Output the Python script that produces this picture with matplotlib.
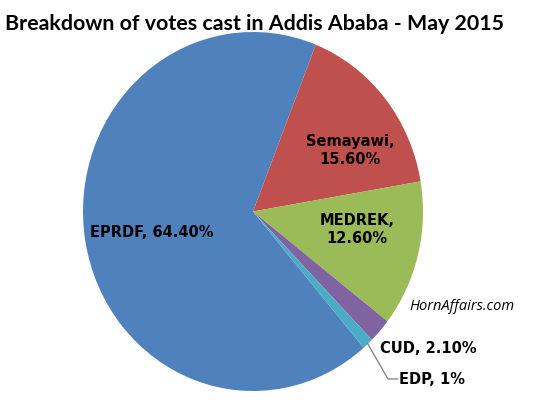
import numpy as np
import matplotlib.pyplot as plt

# Vote shares as printed on the chart (they do not sum to 100)
parties = ['EPRDF', 'Semayawi', 'MEDREK', 'CUD', 'EDP']
shares = [64.4, 15.6, 12.6, 2.1, 1.0]
labels = ['EPRDF, 64.40%', 'Semayawi,\n15.60%', 'MEDREK,\n12.60%', 'CUD, 2.10%', 'EDP, 1%']
colors = ['#4F81BD', '#C0504D', '#9BBB59', '#8064A2', '#4BACC6']

fig = plt.figure(figsize=(5.5, 4.02), dpi=100)
fig.patch.set_facecolor('white')

# pie is a bit taller than wide in the original, so use a non-square axes
ax = fig.add_axes([83 / 550, 10 / 402, 340 / 550, 359 / 402])
wedges, _ = ax.pie(shares, colors=colors, startangle=-49.4, counterclock=False,
                   wedgeprops=dict(linewidth=0))
ax.set_aspect('auto')
ax.set_xlim(-1, 1)
ax.set_ylim(-1, 1)

lab_font = dict(family='DejaVu Sans', weight='bold', fontsize=10.5, color='black')
ax.text(-0.594, -0.109, labels[0], ha='center', va='center', **lab_font)
ax.text(0.571, 0.348, labels[1], ha='center', va='center', linespacing=1.25, **lab_font)
ax.text(0.612, -0.097, labels[2], ha='center', va='center', linespacing=1.25, **lab_font)
ax.text(1.029, -0.755, labels[3], ha='center', va='center', clip_on=False, **lab_font)
ax.text(0.86, -0.933, labels[4], ha='left', va='center', clip_on=False, **lab_font)

# leader line for the small EDP slice
w = wedges[4]
mid = np.deg2rad((w.theta1 + w.theta2) / 2)
x0, y0 = np.cos(mid), np.sin(mid)
ax.plot([x0, 0.794, 0.85], [y0, -0.933, -0.933], color='#7f7f7f', lw=0.9,
        clip_on=False)

ax.text(1.229, -0.521, 'HornAffairs.com', ha='center', va='center', style='italic',
        family='Open Sans', fontsize=10.5, color='black', clip_on=False)

fig.text(5 / 550, 1 - 24 / 402, 'Breakdown of votes cast in Addis Ababa - May 2015',
         ha='left', va='center', family='Lato', weight='bold', fontsize=15.4,
         color='black')

fig.savefig('out.png', dpi=100, facecolor='white')
